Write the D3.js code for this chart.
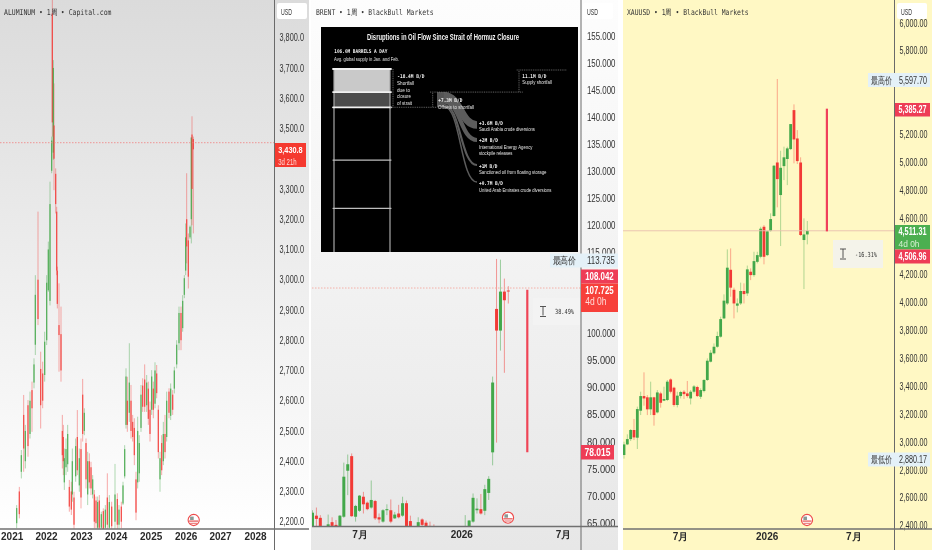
<!DOCTYPE html>
<html>
<head>
<meta charset="utf-8">
<script src="https://cdnjs.cloudflare.com/ajax/libs/d3/7.8.5/d3.min.js"></script>
<style>
html,body{margin:0;padding:0;background:#fff;overflow:hidden}
svg{display:block;filter:blur(0.35px)}
text{font-family:"Liberation Sans",Arial,sans-serif}
</style>
</head>
<body>
<script>
// aluminum: [week, open, high, low, close], week 0 sits on the left edge
var aluminumCandles = [
[25,2195,2255,2178,2245],[29,2300,2315,2211,2225],[32,2365,2437,2343,2420],[35.5,2553,2619,2365,2442],
[38,2400,2520,2376,2500],[42,2585,2602,2415,2450],[45,2490,2630,2475,2600],[48,2635,2663,2497,2575],
[51,2660,2740,2641,2720],[53,2785,3015,2751,2950],[57,3000,3225,2850,2870],[61,2705,2762,2508,2585],
[64,2690,2729,2575,2600],[67,2685,2828,2663,2795],[70,2800,3015,2784,2990],[72.5,2965,3126,2960,3100],
[75,2930,3324,2915,3250],[77.5,3360,3473,3352,3460],[78.5,3880,3960,3473,3520],[80,3420,3726,3396,3700],
[81,3510,3649,3296,3400],[83.5,3350,3368,3219,3250],[85,3225,3241,3015,3030],[86,3030,3043,2905,2920],
[88.5,2850,2988,2696,2817],[91.5,2820,2911,2663,2700],[93.5,2500,2553,2376,2420],[95,2480,2520,2354,2400],
[96.5,2330,2442,2305,2410],[99,2380,2475,2354,2440],[101.5,2390,2520,2365,2490],[104,2315,2338,2233,2250],
[107,2300,2332,2222,2240],[108.5,2290,2442,2266,2400],[111,2280,2299,2167,2190],[113.5,2350,2475,2332,2450],
[116,2480,2569,2354,2370],[119,2320,2442,2299,2410],[121.5,2440,2475,2244,2280],[124,2620,2672,2465,2490],
[126.5,2500,2575,2486,2560],[129,2460,2475,2310,2340],[131.5,2290,2431,2255,2400],[134,2400,2426,2310,2330],
[136.5,2380,2398,2288,2310],[139,2290,2354,2277,2340],[141.5,2290,2305,2178,2200],[144,2270,2283,2178,2195],
[146.5,2180,2283,2167,2265],[149,2270,2288,2167,2180],[152,2180,2233,2167,2225],[155,2235,2244,2167,2175],
[158,2180,2255,2167,2240],[161,2280,2360,2167,2190],[164,2180,2288,2167,2265],[167.5,2250,2266,2167,2185],
[172.5,2200,2391,2167,2290],[176,2275,2294,2167,2190],[178.5,2190,2255,2167,2240],[182,2250,2266,2178,2200],
[184.5,2260,2332,2255,2320],[187,2350,2453,2343,2440],[189,2520,2707,2508,2680],[191,2600,2679,2497,2520],
[194,2560,2790,2530,2660],[196.5,2600,2652,2475,2500],[199,2530,2553,2465,2480],[201.5,2510,2542,2387,2420],
[204,2340,2365,2205,2230],[206.5,2330,2547,2310,2500],[209,2360,2486,2332,2460],[211.5,2510,2652,2497,2620],
[214,2650,2674,2563,2580],[217,2670,2720,2563,2580],[220,2585,2685,2563,2660],[222.5,2640,2663,2520,2540],
[225,2570,2597,2465,2490],[227.5,2570,2701,2553,2680],[230,2640,2663,2542,2570],[232.5,2590,2727,2575,2700],
[235,2690,2718,2608,2625],[237.5,2570,2585,2409,2430],[240,2340,2431,2299,2410],[242.5,2460,2486,2354,2370],
[245,2400,2530,2387,2490],[247.5,2490,2553,2409,2430],[250,2480,2630,2465,2600],[253.5,2630,2641,2542,2560],
[256,2550,2657,2536,2640],[259,2620,2635,2553,2570],[261.5,2640,2712,2624,2700],[265,2720,2800,2707,2785],
[268.5,2790,2911,2767,2890],[271.5,2890,2911,2767,2800],[274,2840,2949,2828,2930],[276.5,2950,3015,2939,3005],
[278.5,3030,3186,3015,3140],[280,3200,3352,3054,3110],[282.5,3130,3153,2971,3010],[285,3140,3179,3135,3175],
[287,3200,3470,3120,3470],[288,3480,3540,3180,3300],[290,3465,3473,3153,3431]
];
var aluminumYears = [[17.5,"2021"],[69,"2022"],[121.5,"2023"],[173.5,"2024"],[226,"2025"],[278.5,"2026"],[330,"2027"],[382.5,"2028"]];
var aluminumTicks = [2200,2300,2400,2500,2600,2700,2800,2900,3000,3100,3200,3300,3500,3600,3700,3800];

// brent weekly: [open, high, low, close]
var brentCandles = [
[63.5,67.3,62.5,66.85],[66.3,67.8,64.2,65.7],[65.9,66.4,63.2,63.8],[63.5,64,62.8,63.2],[63.6,66.5,63,64.7],
[65.1,66,63.8,64.4],[64.6,65.5,63,63.5],[63.5,66.4,63,66.3],[66.1,76.1,65.9,73.5],[74.6,77.6,70.1,75.8],
[77.3,77.8,66.1,66.2],[66.1,68.3,65.2,68.1],[67.2,70.1,67,70],[69.8,70.7,66.7,68.4],[68.7,68.9,67.3,67.5],
[67.8,72.8,67.6,69.2],[69,69.2,65.5,65.8],[66,66.7,64.9,65.6],[65.2,67.5,65,67.3],[67.3,68.4,66.4,67.5],
[67.3,69.3,64.9,65.2],[65.8,67,65.7,66.5],[66.7,68.3,65.8,66],[66.3,69.8,66.1,68.6],[68.6,69.1,63.8,64.4],
[65.3,66.3,62.8,63.2],[63.2,64,62.6,63.4],[63.2,66,62.9,65.1],[65.6,65.8,63.8,64.6],[65,65.4,63.9,64.4],
[64.4,65.2,63,63.4],[63.8,64.7,62.8,63.2],[63,63.8,61,61.8],[61.8,62.6,60.4,61],[61,62.4,60,61.6],
[61.6,62.8,60.6,60.9],[60.9,62,59.8,61.4],[61.4,62.6,60.6,60.8],[60.8,62.9,60.2,62.6],[62.6,66.4,62,63.9],
[63,65.5,62.8,65.4],[65.2,70.4,65,69.6],[67.3,69.5,66.7,67.6],[67.5,70.3,66.5,66.7],[67.2,72,66.4,71.2],
[70.5,73.6,69.2,73.1],[78,92,75.6,90.9],[104.5,113.735,79.8,100.5],[100.5,113.6,96.8,107.7],[107.7,110.1,92.7,106.1],
[107.9,108.7,105.5,107.725]
];
var brentMonths = [[12,"7月"],[38,"2026"],[64,"7月"]];
var brentTicks = [65,70,75,80,85,90,95,100,115,120,125,130,135,140,145,150,155];

// gold weekly: [open, high, low, close]
var goldCandles = [
[2906,3001,2880.17,2982],[2982,3054,2977,3020],[3020,3092,3006,3085],[3085,3164,3013,3032],[3030,3252,2949,3235],
[3223,3359,3192,3328],[3328,3498,3259,3311],[3319,3335,3192,3233],[3233,3431,3192,3319],[3319,3323,3116,3192],
[3211,3371,3204,3354],[3347,3359,3245,3280],[3295,3395,3292,3307],[3300,3443,3292,3431],[3447,3455,3347,3359],
[3388,3395,3252,3264],[3264,3359,3247,3331],[3328,3366,3311,3357],[3359,3371,3307,3342],[3347,3436,3316,3328],
[3311,3371,3268,3359],[3359,3407,3347,3397],[3393,3402,3321,3328],[3323,3383,3307,3371],[3364,3450,3354,3443],
[3443,3598,3436,3581],[3574,3657,3569,3638],[3634,3705,3626,3681],[3681,3789,3674,3758],[3753,3896,3746,3879],
[3884,4056,3879,4011],[3991,4378,3980,4247],[4232,4385,4039,4104],[4089,4104,3884,3991],[3975,4027,3927,3991],
[3991,4140,3980,4080],[4080,4135,3991,4058],[4063,4262,4045,4235],[4218,4242,4158,4194],[4194,4361,4182,4294],
[4289,4361,4278,4337],[4325,4540,4314,4526],[4540,4552,4271,4325],[4337,4512,4330,4507],[4512,4636,4505,4595],
[4617,4982,4612,4977],[5000,5597.7,4679,4881],[4767,5084,4402,4962],[4974,5113,4874,5037],[5025,5113,4838,5101],
[5096,5275,5089,5275],[5375,5416,4994,5165],[5172,5232,4989,5010],[5000,5037,4474,4481],[4445,4600,4094,4485],
[4485,4581,4414,4511.31]
];
var goldMonths = [[16.8,"7月"],[42.8,"2026"],[68.8,"7月"]];
var goldTicks = [2400,2600,2800,3000,3200,3400,3600,3800,4000,4200,4600,4800,5000,5200,5800,6000];

// oil supply infographic, millions of barrels a day
var barrelHoops = [0, 11.1, 18.4, 43.8, 67];
var offsetFlows = [
  {m: 3.6, yEnd: 125},
  {m: 2, yEnd: 140},
  {m: 1, yEnd: 165},
  {m: 0.7, yEnd: 182}
];

var red = "#f23a36", green = "#43a84a", labelInk = "#333";

var svg = d3.select("body").append("svg").attr("width", 932).attr("height", 550);
var defs = svg.append("defs");

function grad(id, c0, c1) {
    var g = defs.append("linearGradient").attr("id", id).attr("x1", 0).attr("x2", 0).attr("y1", 0).attr("y2", 1);
    g.append("stop").attr("offset", "0%").attr("stop-color", c0);
    g.append("stop").attr("offset", "100%").attr("stop-color", c1);
}
grad("alBg", "#dbdbdb", "#ffffff");
grad("brBg", "#fdfdfd", "#e7e7e7");

svg.append("rect").attr("width", 932).attr("height", 550).attr("fill", "#fff");
svg.append("rect").attr("width", 309).attr("height", 530).attr("fill", "url(#alBg)");
svg.append("rect").attr("x", 311).attr("width", 307).attr("height", 550).attr("fill", "url(#brBg)");
svg.append("rect").attr("x", 623).attr("width", 309).attr("height", 550).attr("fill", "#fff8c4");

// squeeze a text to the width it has in the picture, the chart fonts there are condensed
function txt(parent, s, x, y, size, width, opts) {
    opts = opts || {};
    var t = parent.append("text").attr("font-size", size)
        .attr("fill", opts.fill || labelInk).text(s);
    if (opts.weight) t.attr("font-weight", opts.weight);
    if (opts.mono) t.style("font-family", '"DejaVu Sans Mono",monospace');
    var sx = width ? width / t.node().getComputedTextLength() : 1;
    t.attr("transform", "translate(" + x + "," + y + ") scale(" + sx + ",1)");
    return t;
}

function candles(id, rows, clipW, clipX, clipH, x, y, bodyW, wickOp, bodyOp) {
    defs.append("clipPath").attr("id", id).append("rect")
        .attr("x", clipX).attr("y", 0).attr("width", clipW).attr("height", clipH);
    var g = svg.append("g").attr("clip-path", "url(#" + id + ")");
    var col = function(d) { return d.c >= d.o ? green : red; };
    g.selectAll(".w").data(rows).join("line")
        .attr("x1", function(d) { return x(d.t); }).attr("x2", function(d) { return x(d.t); })
        .attr("y1", function(d) { return y(d.h); }).attr("y2", function(d) { return y(d.l); })
        .attr("stroke", col).attr("stroke-opacity", wickOp).attr("stroke-width", 1);
    g.selectAll(".b").data(rows).join("rect")
        .attr("x", function(d) { return x(d.t) - bodyW / 2; })
        .attr("width", bodyW)
        .attr("y", function(d) { return y(Math.max(d.o, d.c)); })
        .attr("height", function(d) { return Math.max(1, Math.abs(y(d.o) - y(d.c))); })
        .attr("fill", col).attr("fill-opacity", bodyOp);
}

function axes(sepX, axisY, y, tickVals, fmt, labelW, labelSize, x, ticks, bottomX0, bottomX1) {
    var ya = svg.append("g").attr("transform", "translate(" + sepX + ",0)")
        .call(d3.axisRight(y).tickValues(tickVals).tickSize(0).tickPadding(0).tickFormat(fmt));
    ya.select(".domain").remove();
    ya.selectAll("text").attr("font-size", labelSize).attr("fill", labelInk)
        .each(function() {
            var sx = labelW.w / this.getComputedTextLength();
            d3.select(this).attr("transform", "translate(" + labelW.pad + ",0) scale(" + sx + ",1)");
        });
    var xa = svg.append("g").attr("transform", "translate(0," + axisY + ")")
        .call(d3.axisBottom(x).tickValues(ticks.map(function(d) { return d[0]; })).tickSize(0).tickPadding(4)
            .tickFormat(function(v) { return ticks.filter(function(d) { return d[0] === v; })[0][1]; }));
    xa.select(".domain").remove();
    xa.selectAll("text").attr("font-size", 10).attr("font-weight", "bold").attr("fill", "#2a2a2a");
    svg.append("line").attr("x1", sepX).attr("x2", sepX).attr("y1", 0).attr("y2", 550)
        .attr("stroke", "#6a6a6a").attr("stroke-width", 1);
    svg.append("line").attr("x1", bottomX0).attr("x2", bottomX1).attr("y1", axisY).attr("y2", axisY)
        .attr("stroke", "#707070").attr("stroke-width", 1.4);
}

function usdBox(x) {
    svg.append("rect").attr("x", x).attr("y", 3).attr("width", 30).attr("height", 16).attr("rx", 2).attr("fill", "#fff");
    txt(svg, "USD", x + 4, 15, 8.5, 11);
}

function badge(x, y, w, h, fill, first, second, size, tw, secondFill) {
    svg.append("rect").attr("x", x).attr("y", y).attr("width", w).attr("height", h).attr("fill", fill);
    txt(svg, first, x + (w - tw) / 2, y + (second ? 10 : h / 2 + size * 0.36), size, tw, {fill: "#fff", weight: "bold"});
    if (second) txt(svg, second, x + (w - tw) / 2, y + 21.5, size - 0.5, tw * 0.75, {fill: secondFill});
}

function sideLabel(xBox, w, yc, word, value, tw, wordW) {
    svg.append("rect").attr("x", xBox).attr("y", yc - 7).attr("width", w).attr("height", 14).attr("fill", "#e4f1f8");
    txt(svg, word, xBox + 2.5, yc + 3.5, 10, wordW);
    txt(svg, value, xBox + w - tw - 3, yc + 3.5, 10, tw);
}

function eventBadge(x, y) {
    var g = svg.append("g").attr("transform", "translate(" + x + "," + y + ")");
    g.append("circle").attr("r", 5.6).attr("fill", "#fff").attr("stroke", "#ee4b4b").attr("stroke-width", 1.1);
    g.append("rect").attr("x", -3.6).attr("y", -3.4).attr("width", 3.6).attr("height", 3.4).attr("fill", "#8a9a96");
    g.append("rect").attr("x", -4.6).attr("y", 0.4).attr("width", 9.2).attr("height", 1.4).attr("fill", "#e96a6a");
    g.append("rect").attr("x", -3.6).attr("y", 2.8).attr("width", 7.2).attr("height", 1).attr("fill", "#e96a6a");
}

function measure(x, pTop, pBot, y, color) {
    svg.append("line").attr("x1", x).attr("x2", x).attr("y1", y(pTop)).attr("y2", y(pBot))
        .attr("stroke", color).attr("stroke-width", 2.2);
}

function measureBox(x, y0, w, h, fill, label, tw) {
    svg.append("rect").attr("x", x).attr("y", y0).attr("width", w).attr("height", h).attr("fill", fill);
    var ix = x + 10, iy = y0 + h / 2;
    svg.append("path").attr("d", "M" + (ix - 3) + "," + (iy - 5) + "h6M" + ix + "," + (iy - 5) + "v9M" + (ix - 3) + "," + (iy + 5) + "h6")
        .attr("stroke", "#444").attr("fill", "none").attr("stroke-width", 0.9);
    txt(svg, label, x + w - tw - 6, iy + 2.5, 7, tw, {mono: true});
}

/* aluminum pane */
var alX = d3.scaleLinear().domain([0, 411]).range([0, 274]);
var alY = d3.scaleLinear().domain([2200, 3800]).range([521.7, 37.7]);
var alRows = aluminumCandles.map(function(d) { return {t: d[0], o: d[1], h: d[2], l: d[3], c: d[4]}; });
candles("alClip", alRows, 274, 0, 529, alX, alY, 1.3, 0.42, 0.8);
svg.append("line").attr("x1", 0).attr("x2", 274).attr("y1", 142.7).attr("y2", 142.7)
    .attr("stroke", "#f08080").attr("stroke-width", 0.8).attr("stroke-dasharray", "1.5 1.5");
axes(274.5, 529, alY, aluminumTicks, d3.format(",.1f"), {w: 24.5, pad: 5}, 10, alX, aluminumYears, 0, 309);
usdBox(277);
badge(275, 143, 31, 24, "#f5392f", "3,430.8", "3d 21h", 9.5, 24.5, "#ffd9d6");
txt(svg, "ALUMINUM • 1周 • Capital.com", 4, 15, 8, 108, {mono: true});
eventBadge(193.7, 520);

/* brent pane */
var brX = d3.scaleLinear().domain([0, 50]).range([312.5, 508.3]);
var brY = d3.scaleLinear().domain([65, 155]).range([522.7, 35.6]);
var brRows = brentCandles.map(function(d, i) { return {t: i, o: d[0], h: d[1], l: d[2], c: d[3]}; });
candles("brClip", brRows, 269, 312, 526.5, brX, brY, 3, 0.5, 1);
svg.append("line").attr("x1", 312).attr("x2", 581).attr("y1", 288).attr("y2", 288)
    .attr("stroke", "#f5a9a0").attr("stroke-width", 0.9).attr("stroke-dasharray", "1.5 1.5");
measure(527.3, 108.042, 78.015, brY, "#ef4456");
measureBox(533, 298, 47, 27, "#f3f3f3", "38.49%", 19);

// infographic laid on top of the chart
var info = svg.append("g");
info.append("rect").attr("x", 321).attr("y", 27).attr("width", 257).attr("height", 225).attr("fill", "#000");
var flowY = d3.scaleLinear().domain([0, 106]).range([69, 289.5]);
var barrelL = 334, barrelR = 390;
defs.append("clipPath").attr("id", "infoClip").append("rect").attr("x", 321).attr("y", 27).attr("width", 257).attr("height", 225);
var bar = info.append("g").attr("clip-path", "url(#infoClip)");
bar.append("rect").attr("x", barrelL).attr("width", barrelR - barrelL)
    .attr("y", flowY(0)).attr("height", flowY(11.1) - flowY(0)).attr("fill", "#c9c9c9");
bar.append("rect").attr("x", barrelL).attr("width", barrelR - barrelL)
    .attr("y", flowY(11.1)).attr("height", flowY(18.4) - flowY(11.1)).attr("fill", "#4b4b4b");
[barrelL, barrelR].forEach(function(x) {
    bar.append("line").attr("x1", x).attr("x2", x).attr("y1", flowY(0)).attr("y2", flowY(106))
        .attr("stroke", "#a8a8a8").attr("stroke-width", 1.2);
});
bar.selectAll(".hoop").data(barrelHoops).join("line")
    .attr("x1", barrelL - 1).attr("x2", barrelR + 1)
    .attr("y1", function(d) { return flowY(d); }).attr("y2", function(d) { return flowY(d); })
    .attr("stroke", function(d, i) { return i < 3 ? "#f0f0f0" : "#bdbdbd"; })
    .attr("stroke-width", function(d, i) { return i < 3 ? 1.8 : 1.1; })
    .attr("stroke-linecap", "round");

// sankey of the offsets, ribbon widths follow the same scale as the barrel
var link = d3.linkHorizontal();
var sy = flowY(11.1);
info.append("rect").attr("x", 437).attr("y", flowY(11.1)).attr("width", 7).attr("height", flowY(18.4) - flowY(11.1)).attr("fill", "#555");
offsetFlows.forEach(function(f) {
    var w = flowY(f.m) - flowY(0);
    info.append("path").attr("fill", "none").attr("stroke", "#5c5c5c").attr("stroke-width", w)
        .attr("d", link({source: [444, sy + w / 2], target: [477, f.yEnd]}));
    sy += w;
});

// brackets
function dash(x1, y1, x2, y2) {
    info.append("line").attr("x1", x1).attr("y1", y1).attr("x2", x2).attr("y2", y2)
        .attr("stroke", "#8c8c8c").attr("stroke-width", 0.7).attr("stroke-dasharray", "1 0.8");
}
dash(393, flowY(0), 393, flowY(18.4));
dash(390, flowY(18.4), 437, flowY(18.4));
dash(430, flowY(11.1), 523, flowY(11.1));
dash(432.7, flowY(11.1) + 1, 432.7, flowY(18.4));
dash(519, flowY(0) + 2, 519, flowY(11.1));
dash(516.7, flowY(0) + 1, 566.7, flowY(0) + 1);

var wh = {fill: "#e6e6e6"}, mo = {fill: "#f2f2f2", mono: true, weight: "bold"};
txt(info, "Disruptions in Oil Flow Since Strait of Hormuz Closure", 367, 40, 8.6, 152, {fill: "#f2f2f2", weight: "bold"});
txt(info, "106.0M BARRELS A DAY", 334.3, 53, 5.2, 53, mo);
txt(info, "Avg. global supply in Jan. and Feb.", 334, 60.5, 5.4, 65, wh);
txt(info, "-18.4M B/D", 397.3, 78, 5.2, 27, mo);
txt(info, "Shortfall", 397, 84.5, 5.4, 17, wh);
txt(info, "due to", 397, 91.5, 5.4, 13, wh);
txt(info, "closure", 397, 98, 5.4, 14, wh);
txt(info, "of strait", 397, 104.5, 5.4, 15, wh);
txt(info, "+7.3M B/D", 438.3, 102, 5.2, 24, mo);
txt(info, "Offsets to shortfall", 438, 108.5, 5.4, 36, wh);
txt(info, "11.1M B/D", 522.3, 77.5, 5.2, 24, mo);
txt(info, "Supply shortfall", 522.3, 84, 5.4, 29.5, wh);
txt(info, "+3.6M B/D", 479, 124.5, 5.2, 24, mo);
txt(info, "Saudi Arabia crude diversions", 479, 131, 5.4, 56, wh);
txt(info, "+2M B/D", 479, 142, 5.2, 19, mo);
txt(info, "International Energy Agency", 479, 148.5, 5.4, 53.5, wh);
txt(info, "stockpile releases", 479, 155, 5.4, 33.5, wh);
txt(info, "+1M B/D", 479, 167.5, 5.2, 18.5, mo);
txt(info, "Sanctioned oil from floating storage", 479, 174, 5.4, 67.5, wh);
txt(info, "+0.7M B/D", 479, 185, 5.2, 24, mo);
txt(info, "United Arab Emirates crude diversions", 479, 191.5, 5.4, 72.5, wh);

axes(581, 526.5, brY, brentTicks, d3.format(".3f"), {w: 28.5, pad: 6}, 11, brX, brentMonths, 312, 618);
usdBox(583);
sideLabel(550, 68, 260.5, "最高价", "113.735", 28, 24);
badge(581, 269.5, 37, 14, "#ee3d56", "108.042", null, 10.5, 28.5);
badge(581, 283.5, 37, 28.5, "#f7403a", "107.725", "4d 0h", 10.5, 28.5, "#ffd9d6");
badge(581, 445, 33, 14.5, "#ee3d56", "78.015", null, 10.5, 26);
txt(svg, "BRENT • 1周 • BlackBull Markets", 316, 15, 8, 118, {mono: true});
eventBadge(508, 517.7);

/* gold pane */
var auX = d3.scaleLinear().domain([0, 55]).range([624, 807.3]);
var auY = d3.scaleLinear().domain([2400, 6000]).range([525.7, 22.8]);
var auRows = goldCandles.map(function(d, i) { return {t: i, o: d[0], h: d[1], l: d[2], c: d[3]}; });
candles("auClip", auRows, 271, 623, 529, auX, auY, 2.8, 0.42, 1);
svg.append("line").attr("x1", 623).attr("x2", 894).attr("y1", auY(4511.31)).attr("y2", auY(4511.31))
    .attr("stroke", "#e8bfae").attr("stroke-width", 0.9);
measure(826.9, 5385.27, 4506.96, auY, "#f0405a");
measureBox(833, 240, 50, 28, "#f4f3ea", "-16.31%", 22);
axes(894.5, 529, auY, goldTicks, d3.format(",.2f"), {w: 28, pad: 5}, 10, auX, goldMonths, 623, 932);
usdBox(897);
sideLabel(868, 62, 80, "最高价", "5,597.70", 28, 21);
badge(895, 103, 35, 13.5, "#ee3d56", "5,385.27", null, 10, 28);
badge(895, 225, 35, 24.5, "#4caf50", "4,511.31", "4d 0h", 10, 28, "#d6f0d2");
badge(895, 249.5, 35, 14, "#ee3d56", "4,506.96", null, 10, 28);
sideLabel(868, 62, 459.5, "最低价", "2,880.17", 28, 21);
txt(svg, "XAUUSD • 1周 • BlackBull Markets", 627, 15, 8, 122, {mono: true});
eventBadge(807, 520);
</script>
</body>
</html>
